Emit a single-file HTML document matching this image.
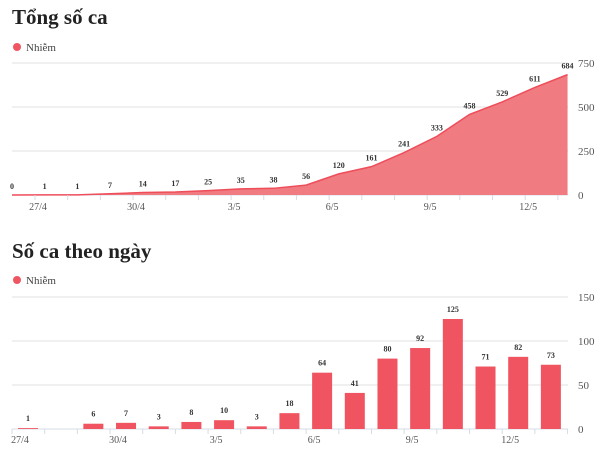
<!DOCTYPE html>
<html><head><meta charset="utf-8">
<style>
body{margin:0;background:#fff;width:600px;height:459px;overflow:hidden;font-family:"Liberation Serif",serif;}
svg text{font-family:"Liberation Serif","Noto Serif CJK SC",serif;}
</style></head>
<body>
<svg width="600" height="459" viewBox="0 0 600 459" xmlns="http://www.w3.org/2000/svg">
<text x="12" y="24" font-size="21" font-weight="bold" fill="#222">Tổng số ca</text>
<circle cx="17" cy="47" r="4" fill="#ef5662"/>
<text x="26" y="51" font-size="11" fill="#444">Nhiễm</text>
<g id="topchart"></g>
<text x="12" y="258" font-size="21" font-weight="bold" fill="#222">Số ca theo ngày</text>
<circle cx="17" cy="280" r="4" fill="#ef5662"/>
<text x="26" y="284" font-size="11" fill="#444">Nhiễm</text>
<g id="botchart"></g>
</svg>
<script>
const totalValues=[0,1,1,7,14,17,25,35,38,56,120,161,241,333,458,529,611,684];
const totalTicks=[0,250,500,750];
const dailyValues=[1,0,6,7,3,8,10,3,18,64,41,80,92,125,71,82,73];
const dailyTicks=[0,50,100,150];
const dateLabels=["27/4","30/4","3/5","6/5","9/5","12/5"];
const NS="http://www.w3.org/2000/svg";
function mk(p,t,a){const e=document.createElementNS(NS,t);for(const k in a)e.setAttribute(k,a[k]);p.appendChild(e);return e;}
const step=32.68;
const topG=document.getElementById('topchart');
const tx=i=>12+i*step, ty=v=>195-v/750*132;
totalTicks.forEach(t=>{
 const l=mk(topG,'line',{x1:12,x2:568,y1:ty(t),y2:ty(t),stroke:t?'#e2e2e2':'#d6dbe6','stroke-width':1});
 
 
 const s=mk(topG,'text',{x:578,y:ty(t)+4,'font-size':11,fill:'#555'});s.textContent=t;
 
 
});
let d='M'+tx(0)+','+ty(0);
totalValues.forEach((v,i)=>d+=' L'+tx(i)+','+ty(v));
const area=mk(topG,'path',{d:d+' L'+tx(totalValues.length-1)+','+ty(0)+' Z',fill:'#f07b80'});


let d2='';
totalValues.forEach((v,i)=>d2+=(i?' L':'M')+tx(i)+','+ty(v));
const line=mk(topG,'path',{d:d2,fill:'none',stroke:'#ee4d5a','stroke-width':1.5});


totalValues.forEach((v,i)=>{
 const s=mk(topG,'text',{x:tx(i),y:ty(v)-6,'font-size':8,'font-weight':'bold','text-anchor':'middle',fill:'#333'});s.textContent=v;
 
 
});
for(let k=0;k<17;k++){const m=mk(topG,'line',{x1:35+k*step,x2:35+k*step,y1:195,y2:200,stroke:'#d6dbe6'});
 
 }
dateLabels.forEach((l,k)=>{const s=mk(topG,'text',{x:38+k*3*step,y:210,'font-size':10,'text-anchor':'middle',fill:'#555'});s.textContent=l;
 
 });
const botG=document.getElementById('botchart');
const bx=i=>28+i*step, by=v=>429-v/150*132;
dailyTicks.forEach(t=>{
 const l=mk(botG,'line',{x1:12,x2:568,y1:by(t),y2:by(t),stroke:t?'#e2e2e2':'#d6dbe6','stroke-width':1});
 
 
 const s=mk(botG,'text',{x:578,y:by(t)+4,'font-size':11,fill:'#555'});s.textContent=t;
 
 
});
dailyValues.forEach((v,i)=>{
 if(v>0){const r=mk(botG,'rect',{x:bx(i)-10,y:by(v),width:20,height:by(0)-by(v),fill:'#ef5460'});
 
 
 const s=mk(botG,'text',{x:bx(i),y:by(v)-7,'font-size':8,'font-weight':'bold','text-anchor':'middle',fill:'#333'});s.textContent=v;
 
 }
});
for(let k=0;k<18;k++){const m=mk(botG,'line',{x1:12+k*step,x2:12+k*step,y1:429,y2:434,stroke:'#d6dbe6'});
 
 }
dateLabels.forEach((l,k)=>{const s=mk(botG,'text',{x:20+k*3*step,y:443,'font-size':10,'text-anchor':'middle',fill:'#555'});s.textContent=l;
 
 });
</script>
</body></html>
